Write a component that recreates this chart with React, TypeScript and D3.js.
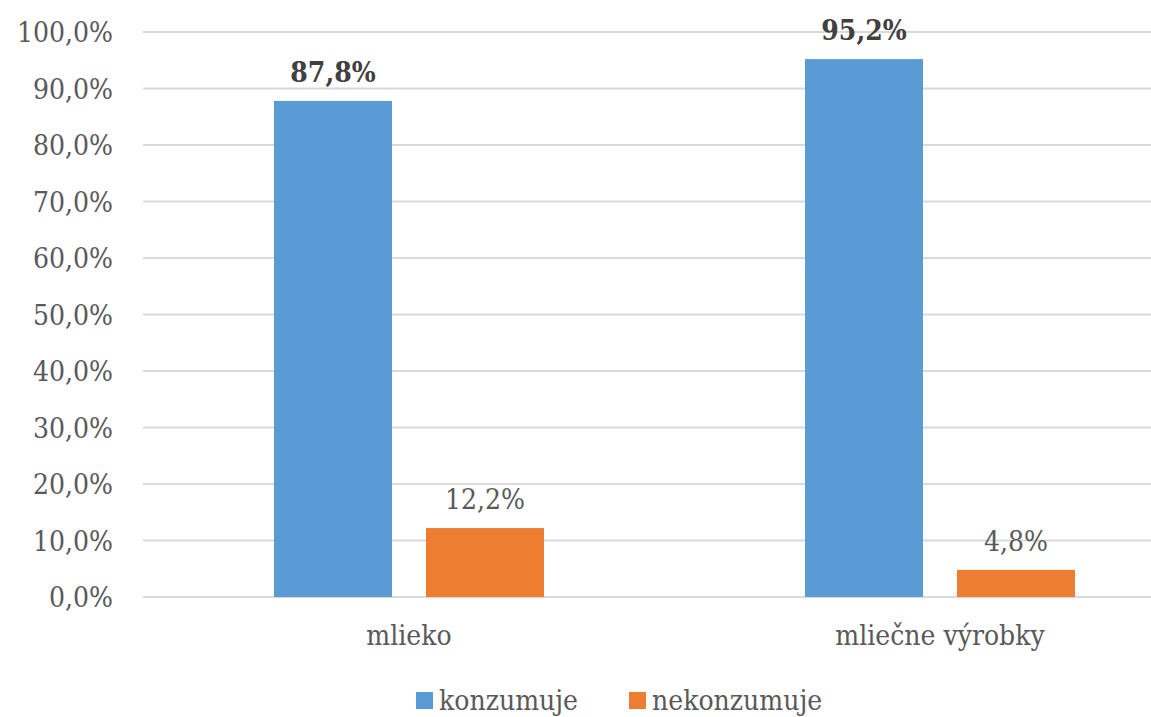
import React from "react";
import * as d3 from "d3";

const categories = ["mlieko", "mliečne výrobky"];
const seriesNames = ["konzumuje", "nekonzumuje"];
const konzumuje = [87.8, 95.2];
const nekonzumuje = [12.2, 4.8];
const yTicks = [0, 10, 20, 30, 40, 50, 60, 70, 80, 90, 100];

const colors = ["#5B9BD5", "#ED7D31"];
const W = 1151;
const H = 717;
const FONT = "'DejaVu Serif Condensed', 'DejaVu Serif', serif";
const TEXT = "#595959";
const FS = 28;

const fmt = (v: number) => v.toFixed(1).replace(".", ",") + "%";

export default function App() {
  const y = d3.scaleLinear().domain([0, 100]).range([597, 32]);
  const x0 = d3.scaleBand<string>().domain(categories).range([143.5, 1205.5]).padding(0);
  const x1 = d3
    .scaleBand<string>()
    .domain(seriesNames)
    .range([0, x0.bandwidth()])
    .paddingInner(0.2237)
    .paddingOuter(0.8586);
  const values = [konzumuje, nekonzumuje];
  const textProps = { fontFamily: FONT, fontSize: FS, fontStretch: "condensed" } as any;

  return (
    <svg width={W} height={H} style={{ position: "absolute", left: 0, top: 0, background: "#fff" }}>
      {yTicks.map((t) => (
        <g key={t}>
          <line x1={143} x2={W} y1={y(t)} y2={y(t)} stroke="#D9D9D9" strokeWidth={2} />
          <text x={113} y={y(t)} dy="0.36em" textAnchor="end" {...textProps} fill={TEXT}>
            {fmt(t)}
          </text>
        </g>
      ))}
      {categories.map((c, ci) => (
        <g key={c} transform={`translate(${x0(c)},0)`}>
          {seriesNames.map((s, si) => {
            const v = values[si][ci];
            const bx = x1(s)!;
            return (
              <g key={s}>
                <rect x={bx} y={y(v)} width={x1.bandwidth()} height={y(0) - y(v)} fill={colors[si]} />
                <text
                  x={bx + x1.bandwidth() / 2}
                  y={y(v) - 19}
                  textAnchor="middle"
                  {...textProps}
                  fontWeight={si === 0 ? "bold" : "normal"}
                  fill={si === 0 ? "#404040" : TEXT}
                >
                  {fmt(v)}
                </text>
              </g>
            );
          })}
          <text x={x0.bandwidth() / 2} y={645} textAnchor="middle" {...textProps} fill={TEXT}>
            {c}
          </text>
        </g>
      ))}
      {seriesNames.map((s, si) => {
        const lx = [416, 629][si];
        return (
          <g key={s}>
            <rect x={lx} y={692} width={17} height={17} fill={colors[si]} />
            <text x={lx + 23} y={710} {...textProps} fill={TEXT}>
              {s}
            </text>
          </g>
        );
      })}
    </svg>
  );
}
